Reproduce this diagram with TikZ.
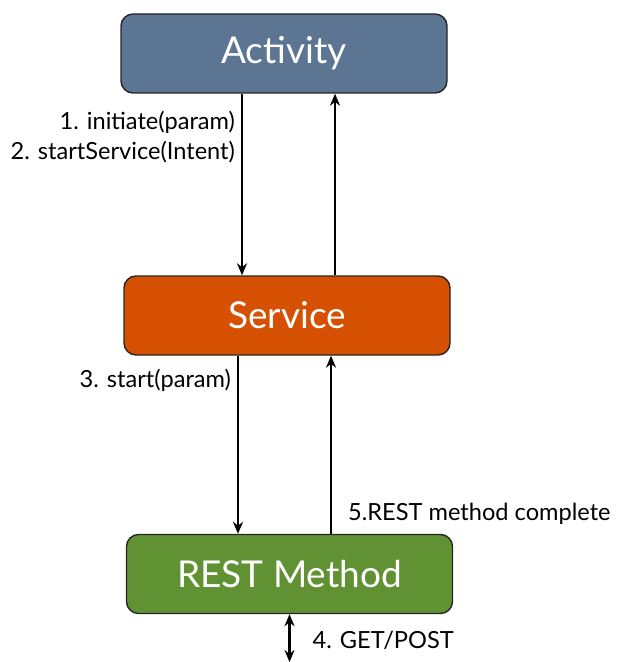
\documentclass[tikz,border=0pt]{standalone}
\usepackage{fontspec}
\usetikzlibrary{arrows.meta}
\setmainfont{Lato}
\definecolor{actBlue}{RGB}{92,117,146}
\definecolor{srvOrange}{RGB}{214,80,2}
\definecolor{restGreen}{RGB}{96,145,50}
\begin{document}
\begin{tikzpicture}[x=0.5pt,y=-0.5pt,
    >={Stealth[length=6pt,width=5pt]},
    svcBox/.style={draw=black!85,line width=0.7pt,rounded corners=6pt,
        minimum width=163pt,minimum height=39.5pt,text=white,
        font=\fontsize{18.5}{21}\selectfont},
    callArr/.style={->,line width=1.1pt},
    callLbl/.style={font=\fontsize{11.8}{15}\selectfont,inner sep=1pt},
]
\useasboundingbox (0,0) rectangle (618,662);
% the three layers
\node[svcBox,fill=actBlue]   (act)  at (284,53.5) {Activity};
\node[svcBox,fill=srvOrange] (srv)  at (287,315.5) {Service};
\node[svcBox,fill=restGreen] (rest) at (289.5,574) {REST Method};
\coordinate (net) at (289.5,662);
% Activity <-> Service
\draw[callArr] ([xshift=-21pt]act.south) -- ([xshift=-21pt]act.south |- srv.north)
    node[callLbl,pos=0.24,anchor=east,align=right,xshift=-2pt] (lbl12)
    {1. initiate(param)\\2. startService(Intent)};
\draw[callArr] ([xshift=25.5pt]act.south |- srv.north) -- ([xshift=25.5pt]act.south);
% Service <-> REST Method
\draw[callArr] ([xshift=-24.5pt]srv.south) -- ([xshift=-24.5pt]srv.south |- rest.north)
    node[callLbl,pos=0.14,anchor=east,xshift=-2pt] (lbl3) {3. start(param)};
\draw[callArr] ([xshift=22pt]srv.south |- rest.north) -- ([xshift=22pt]srv.south)
    node[callLbl,pos=0.11,anchor=west,xshift=7pt] (lbl5) {5.REST method complete};
% REST Method <-> network
\draw[<->,line width=1.1pt] (rest.south) -- (net)
    node[callLbl,pos=0.55,anchor=west,xshift=10pt] (lbl4) {4. GET/POST};
\end{tikzpicture}
\end{document}
